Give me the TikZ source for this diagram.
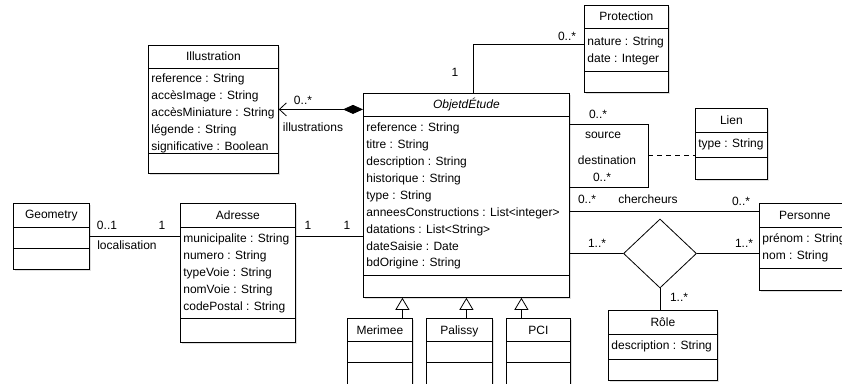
\documentclass[tikz,border=0pt]{standalone}
\usepackage{fontspec}
\setmainfont{Liberation Sans}
\usetikzlibrary{arrows.meta,shapes.geometric,shadows}

\begin{document}
\begin{tikzpicture}[
  x=1pt, y=-1pt,
  every node/.style={font=\fontsize{12}{16.9}\selectfont},
  every path/.style={line width=0.8pt},
  cls/.style={draw,fill=white,anchor=north west,inner sep=0pt,
    drop shadow={shadow xshift=1.5pt,shadow yshift=-1.5pt,opacity=0.25}},
  title/.style={anchor=base,inner sep=0pt},
  attr/.style={anchor=north west,align=left,inner sep=0pt},
  lbl/.style={inner sep=0pt,text height=8.6pt,text depth=0pt}
]
\useasboundingbox (0,0) rectangle (842,383);

% classes
\node[cls,minimum width=130,minimum height=128] (illus) at (148,45) {};
\node[title] (illus-t) at ([yshift=-15.5]illus.north) {Illustration};
\draw ([yshift=-23]illus.north west) -- ([yshift=-23]illus.north east);
\draw ([yshift=-108.5]illus.north west) -- ([yshift=-108.5]illus.north east);
\node[attr] (illus-a) at ([xshift=3,yshift=-25.5]illus.north west)
  {\strut reference : String\\ accèsImage : String\\ accèsMiniature : String\\
   légende : String\\ significative : Boolean};

\node[cls,minimum width=206,minimum height=204] (objet) at (363,93) {};
\node[title] (objet-t) at ([yshift=-15.5]objet.north) {\itshape ObjetdÉtude};
\draw ([yshift=-23]objet.north west) -- ([yshift=-23]objet.north east);
\draw ([yshift=-182]objet.north west) -- ([yshift=-182]objet.north east);
\node[attr] (objet-a) at ([xshift=3,yshift=-26.5]objet.north west)
  {\strut reference : String\\ titre : String\\ description : String\\
   historique : String\\ type : String\\ anneesConstructions : List<integer>\\
   datations : List<String>\\ dateSaisie : Date\\ bdOrigine : String};

\node[cls,minimum width=84,minimum height=87] (prot) at (584,5) {};
\node[title] (prot-t) at ([yshift=-15.5]prot.north) {Protection};
\draw ([yshift=-23]prot.north west) -- ([yshift=-23]prot.north east);
\draw ([yshift=-66]prot.north west) -- ([yshift=-66]prot.north east);
\node[attr] (prot-a) at ([xshift=3,yshift=-28.5]prot.north west)
  {\strut nature : String\\ date : Integer};

\node[cls,minimum width=72,minimum height=71] (lien) at (695,108) {};
\node[title] (lien-t) at ([yshift=-16]lien.north) {Lien};
\draw ([yshift=-24]lien.north west) -- ([yshift=-24]lien.north east);
\draw ([yshift=-49]lien.north west) -- ([yshift=-49]lien.north east);
\node[attr] (lien-a) at ([xshift=3,yshift=-27.5]lien.north west)
  {\strut type : String};

\node[cls,minimum width=76,minimum height=66] (geo) at (13,203) {};
\node[title] (geo-t) at ([yshift=-15]geo.north) {Geometry};
\draw ([yshift=-24]geo.north west) -- ([yshift=-24]geo.north east);
\draw ([yshift=-45]geo.north west) -- ([yshift=-45]geo.north east);

\node[cls,minimum width=115,minimum height=139] (adr) at (180,203) {};
\node[title] (adr-t) at ([yshift=-16]adr.north) {Adresse};
\draw ([yshift=-24]adr.north west) -- ([yshift=-24]adr.north east);
\draw ([yshift=-115]adr.north west) -- ([yshift=-115]adr.north east);
\node[attr] (adr-a) at ([xshift=3,yshift=-27.5]adr.north west)
  {\strut municipalite : String\\ numero : String\\ typeVoie : String\\
   nomVoie : String\\ codePostal : String};

\node[cls,minimum width=91,minimum height=87] (pers) at (759,203) {};
\node[title] (pers-t) at ([yshift=-16]pers.north) {Personne};
\draw ([yshift=-24]pers.north west) -- ([yshift=-24]pers.north east);
\draw ([yshift=-65]pers.north west) -- ([yshift=-65]pers.north east);
\node[attr] (pers-a) at ([xshift=3,yshift=-27.5]pers.north west)
  {\strut prénom : String\\ nom : String};

\node[cls,minimum width=109,minimum height=70] (role) at (608,310) {};
\node[title] (role-t) at ([yshift=-16]role.north) {Rôle};
\draw ([yshift=-24]role.north west) -- ([yshift=-24]role.north east);
\draw ([yshift=-49]role.north west) -- ([yshift=-49]role.north east);
\node[attr] (role-a) at ([xshift=3,yshift=-27.5]role.north west)
  {\strut description : String};

\node[cls,minimum width=65,minimum height=90] (meri) at (347,318) {};
\node[title] (meri-t) at ([yshift=-16]meri.north) {Merimee};
\draw ([yshift=-23]meri.north west) -- ([yshift=-23]meri.north east);
\draw ([yshift=-44]meri.north west) -- ([yshift=-44]meri.north east);

\node[cls,minimum width=66,minimum height=90] (pali) at (426,318) {};
\node[title] (pali-t) at ([yshift=-16]pali.north) {Palissy};
\draw ([yshift=-23]pali.north west) -- ([yshift=-23]pali.north east);
\draw ([yshift=-44]pali.north west) -- ([yshift=-44]pali.north east);

\node[cls,minimum width=64,minimum height=90] (pci) at (506,318) {};
\node[title] (pci-t) at ([yshift=-16]pci.north) {PCI};
\draw ([yshift=-23]pci.north west) -- ([yshift=-23]pci.north east);
\draw ([yshift=-44]pci.north west) -- ([yshift=-44]pci.north east);

% association class diamond
\node[draw,diamond,fill=white,minimum width=73,minimum height=69,inner sep=0pt]
  (roleassoc) at (660,253.5) {};

% connectors
\draw[{Straight Barb[length=7pt,width=13pt]}-{Diamond[length=20pt,width=9pt]}]
  (illus.east) -- (illus.east -| objet.west);
\draw ([xshift=7]objet.north) |- ([yshift=4.5]prot.west);
\coordinate (lk) at (648,155);
\draw ([yshift=71]objet.east) -| (lk) |- ([yshift=8]objet.east);
\draw[dash pattern=on 5pt off 4pt] (lk) -- (lk -| lien.west);
\draw ([yshift=-16]objet.east) -- ([yshift=-16]objet.east -| pers.west);
\draw (roleassoc.west) -- (roleassoc.west -| objet.east);
\draw (roleassoc.east) -- (roleassoc.east -| pers.west);
\draw (roleassoc.south) -- (roleassoc.south |- role.north);
\draw (geo.east) -- (geo.east -| adr.west);
\draw (geo.east -| adr.east) -- (geo.east -| objet.west);
\draw[-{Triangle[open,length=12pt,width=14pt]}]
  ([xshift=22.5]meri.north) -- ([xshift=22.5]meri.north |- objet.south);
\draw[-{Triangle[open,length=12pt,width=14pt]}]
  ([xshift=7]pali.north) -- ([xshift=7]pali.north |- objet.south);
\draw[-{Triangle[open,length=12pt,width=14pt]}]
  ([xshift=-17]pci.north) -- ([xshift=-17]pci.north |- objet.south);

% multiplicities and roles
\node[lbl] (m-illus) at (303,100) {0..*};
\node[lbl] (r-illus) at (313,127) {illustrations};
\node[lbl] (m-prot1) at (455,72) {1};
\node[lbl] (m-prot2) at (567,36) {0..*};
\node[lbl] (m-src) at (598,114) {0..*};
\node[lbl] (r-src) at (603,134) {source};
\node[lbl] (r-dst) at (607,160) {destination};
\node[lbl] (m-dst) at (602,177) {0..*};
\node[lbl] (m-ch1) at (587,199) {0..*};
\node[lbl] (r-ch) at (648,199) {chercheurs};
\node[lbl] (m-ch2) at (741,201) {0..*};
\node[lbl] (m-ra1) at (597,243) {1..*};
\node[lbl] (m-ra2) at (744,243) {1..*};
\node[lbl] (m-ra3) at (679,297) {1..*};
\node[lbl] (m-geo) at (107,225) {0..1};
\node[lbl] (m-adr) at (162,225) {1};
\node[lbl] (r-geo) at (127,245) {localisation};
\node[lbl] (m-ao1) at (308,225) {1};
\node[lbl] (m-ao2) at (347,225) {1};
\end{tikzpicture}
\end{document}
